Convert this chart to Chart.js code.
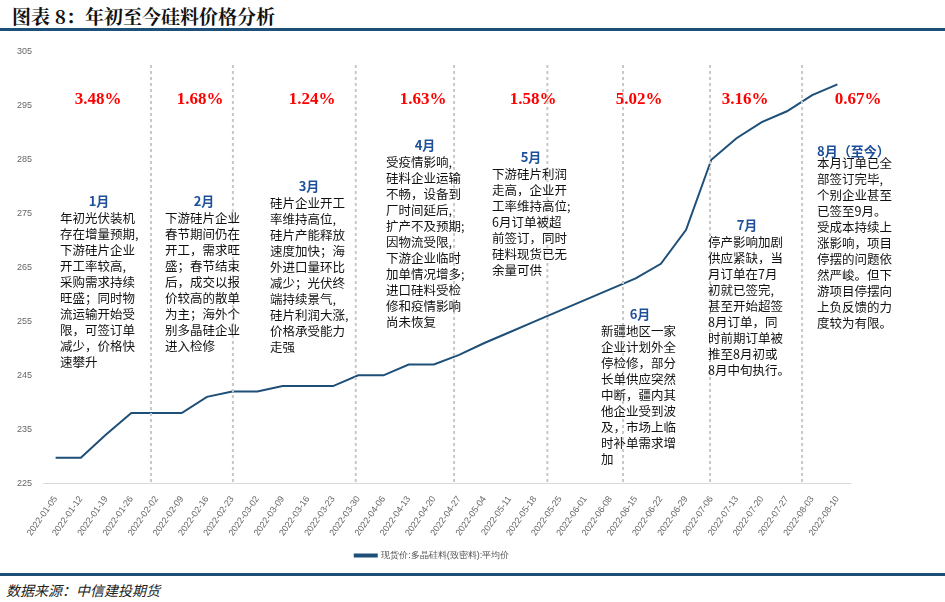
<!DOCTYPE html>
<html><head><meta charset="utf-8">
<script src="https://cdn.jsdelivr.net/npm/chart.js@4"></script>
<style>
body{margin:0;background:#fff;font-family:"Noto Sans CJK SC",sans-serif;}
#wrap{position:absolute;left:0;top:0;width:945px;height:570px;}
#title{position:absolute;left:12px;top:2px;font:bold 19px "Noto Serif CJK SC","Noto Sans CJK SC",serif;color:#111;}
.bar{position:absolute;left:0;width:945px;height:3px;background:#1d4f78;}
#src{position:absolute;left:6px;top:580px;font:italic 14px "Noto Sans CJK SC";color:#222;}
</style></head><body>
<div id="title">图表 8：年初至今硅料价格分析</div>
<div class="bar" style="top:28px"></div>
<div id="wrap"><canvas id="c"></canvas></div>
<div class="bar" style="top:573px"></div>
<div id="src">数据来源：中信建投期货</div>
<script>
// weekly dates
const dates = ['2022-01-05','2022-01-12','2022-01-19','2022-01-26','2022-02-02','2022-02-09','2022-02-16','2022-02-23',
 '2022-03-02','2022-03-09','2022-03-16','2022-03-23','2022-03-30','2022-04-06','2022-04-13','2022-04-20','2022-04-27',
 '2022-05-04','2022-05-11','2022-05-18','2022-05-25','2022-06-01','2022-06-08','2022-06-15','2022-06-22','2022-06-29',
 '2022-07-06','2022-07-13','2022-07-20','2022-07-27','2022-08-03','2022-08-10'];
const prices = [229.7,229.7,234,238,238,238,241,242,242,243,243,243,245,245,247,247,248.8,
 251,253,255,257,259,261,263,265.7,272,285,289,292,294,297,299];
const seriesName = '现货价:多晶硅料(致密料):平均价';

// month split positions (category index) and notes
const splits = [3.78,7.03,11.9,15.8,19.5,22.5,25.95,29.6];
const pcts = ['3.48%','1.68%','1.24%','1.63%','1.58%','5.02%','3.16%','0.67%'];
const pctX = [98,200,312,423,533,639,745,858];
const notes = [
 {h:'1月',x:60,y:200,lines:['年初光伏装机','存在增量预期,','下游硅片企业','开工率较高,','采购需求持续','旺盛；同时物','流运输开始受','限，可签订单','减少，价格快','速攀升']},
 {h:'2月',x:165,y:200,lines:['下游硅片企业','春节期间仍在','开工，需求旺','盛；春节结束','后，成交以报','价较高的散单','为主；海外个','别多晶硅企业','进入检修']},
 {h:'3月',x:270,y:185,lines:['硅片企业开工','率维持高位,','硅片产能释放','速度加快；海','外进口量环比','减少；光伏终','端持续景气,','硅片利润大涨,','价格承受能力','走强']},
 {h:'4月',x:386,y:144,lines:['受疫情影响,','硅料企业运输','不畅，设备到','厂时间延后,','扩产不及预期;','因物流受限,','下游企业临时','加单情况增多;','进口硅料受检','修和疫情影响','尚未恢复']},
 {h:'5月',x:492,y:156,lines:['下游硅片利润','走高，企业开','工率维持高位;','6月订单被超','前签订，同时','硅料现货已无','余量可供']},
 {h:'6月',x:601,y:313,lines:['新疆地区一家','企业计划外全','停检修，部分','长单供应突然','中断，疆内其','他企业受到波','及，市场上临','时补单需求增','加']},
 {h:'7月',x:708,y:224,lines:['停产影响加剧','供应紧缺，当','月订单在7月','初就已签完,','甚至开始超签','8月订单，同','时前期订单被','推至8月初或','8月中旬执行。']},
 {h:'8月（至今）',x:817,y:145,lines:['本月订单已全','部签订完毕,','个别企业甚至','已签至9月。','受成本持续上','涨影响，项目','停摆的问题依','然严峻。但下','游项目停摆向','上负反馈的力','度较为有限。'],left:true}
];

const notesPlugin = {
  id:'notes',
  afterDatasetsDraw(chart){
    const ctx = chart.ctx, xs = chart.scales.x, ys = chart.scales.y;
    ctx.save();
    ctx.strokeStyle = '#c8c8c8'; ctx.lineWidth = 2; ctx.setLineDash([3,3]);
    splits.forEach(s => {
      const px = xs.getPixelForValue(0) + s*(xs.getPixelForValue(1)-xs.getPixelForValue(0));
      ctx.beginPath(); ctx.moveTo(px, 65); ctx.lineTo(px, ys.bottom); ctx.stroke();
    });
    ctx.setLineDash([]);
    ctx.fillStyle = '#ff0000'; ctx.font = 'bold 17px "Liberation Serif", serif'; ctx.textAlign='center'; ctx.textBaseline='middle';
    pcts.forEach((p,i) => ctx.fillText(p, pctX[i], 100));
    ctx.textBaseline = 'top';
    notes.forEach(n => {
      ctx.fillStyle = '#1d4f9a'; ctx.font = 'bold 13px "Noto Sans CJK SC"';
      if (n.left) { ctx.textAlign='left'; ctx.fillText(n.h, n.x, n.y); }
      else { ctx.textAlign='center'; ctx.fillText(n.h, n.x+39, n.y-5); }
      ctx.textAlign='left'; ctx.fillStyle = '#111'; ctx.font = '12.5px "Noto Sans CJK SC"';
      n.lines.forEach((l,j) => ctx.fillText(l, n.x, n.y + 12 + j*16));
    });
    ctx.restore();
  }
};

new Chart(document.getElementById('c'), {
  type:'line',
  data:{labels:dates, datasets:[{label:seriesName, data:prices, borderColor:'#1d4f78', borderWidth:2, pointRadius:0, tension:0, fill:false}]},
  options:{
    responsive:true, maintainAspectRatio:false, animation:false,
    layout:{padding:{top:52,right:95,left:14,bottom:0}},
    plugins:{legend:{position:'bottom', labels:{boxWidth:22, boxHeight:2, font:{size:9}, color:'#555'}}, tooltip:{enabled:false}},
    scales:{
      x:{offset:true, grid:{display:false}, border:{color:'#d9d9d9'},
         ticks:{maxRotation:55, minRotation:55, autoSkip:false, font:{size:9}, color:'#666'}},
      y:{min:225, max:305, grid:{display:false}, border:{display:false},
         ticks:{stepSize:10, font:{size:9}, color:'#666'}}
    }
  },
  plugins:[notesPlugin]
});
</script></body></html>
